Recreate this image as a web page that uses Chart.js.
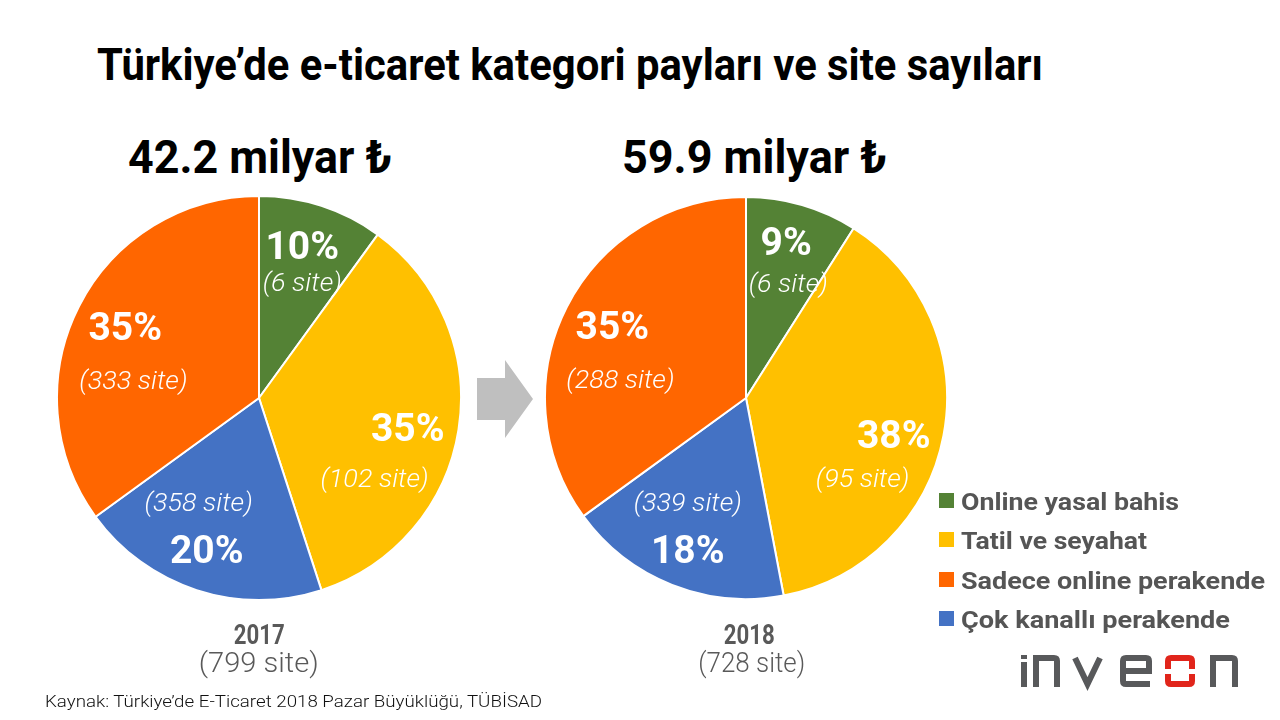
<!DOCTYPE html>
<html lang="tr">
<head>
<meta charset="utf-8">
<title>Türkiye'de e-ticaret kategori payları ve site sayıları</title>
<script src="https://cdn.jsdelivr.net/npm/chart.js@4.4.1/dist/chart.umd.min.js"></script>
<style>
    html, body { margin: 0; padding: 0; background: #fff; }
    body { width: 1280px; height: 720px; position: relative; overflow: hidden; font-family: Roboto, "Noto Sans", sans-serif; }
    .txt { position: absolute; line-height: 1; white-space: nowrap; }
    .fit { display: inline-block; }
    .pie { position: absolute; }
    #title { left: 97px; top: 43px; font-size: 44px; font-weight: 700; color: #000; }
    .amount { font-size: 46px; font-weight: 700; color: #000; top: 134px; }
    .year { font-size: 28px; font-weight: 700; color: #595959; top: 621px; width: 300px; text-align: center; }
    .count { font-size: 28px; font-weight: 300; color: #595959; top: 649px; width: 300px; text-align: center; }
    #source { left: 45px; top: 693px; font-size: 17px; font-weight: 300; color: #111; }
    #legend { position: absolute; left: 939px; top: 490px; }
    .legend-item { position: relative; height: 39.3px; }
    .legend-box { position: absolute; left: 0; top: 3px; width: 15px; height: 15px; }
    .legend-text { position: absolute; left: 22px; top: 0; font-size: 24px; font-weight: 700; color: #555; line-height: 1; white-space: nowrap; }
</style>
</head>
<body>

<div id="title" class="txt"><span class="fit" data-w="946">Türkiye’de e-ticaret kategori payları ve site sayıları</span></div>
<div id="amount2017" class="txt amount" style="left:128px"><span class="fit" data-w="264">42.2 milyar ₺</span></div>
<div id="amount2018" class="txt amount" style="left:622px"><span class="fit" data-w="265">59.9 milyar ₺</span></div>

<div class="pie" style="left:56px; top:194.5px; width:406px; height:406px"><canvas id="pie2017"></canvas></div>
<div class="pie" style="left:544px; top:195.5px; width:404px; height:404px"><canvas id="pie2018"></canvas></div>

<svg style="position:absolute; left:0; top:0" width="1280" height="720">
    <polygon points="477,378 505,378 505,360 533,399 505,438 505,420 477,420" fill="#bfbfbf"/>
    <g fill="none" stroke="#58595b" stroke-width="6">
        <rect x="1021" y="655" width="6" height="4" fill="#58595b" stroke="none"/>
        <rect x="1021" y="662" width="6" height="25" fill="#58595b" stroke="none"/>
        <path d="M1036,687 V658 H1054 Q1057,658 1057,661 V687"/>
        <path d="M1075,658 L1087.5,684 L1100,658"/>
        <path d="M1123,671 H1149 V661 Q1149,658 1146,658 H1126 Q1123,658 1123,661 V681 Q1123,684 1126,684 H1150"/>
        <path d="M1213,687 V658 H1232 Q1235,658 1235,661 V687"/>
    </g>
    <g fill="none" stroke="#e1251b" stroke-width="6">
        <path d="M1168,669 V661 Q1168,658 1171,658 H1189 Q1192,658 1192,661 V669"/>
        <path d="M1168,674 V681 Q1168,684 1171,684 H1189 Q1192,684 1192,681 V674"/>
    </g>
</svg>

<div class="txt year" style="left:109px"><span class="fit" data-w="51" id="year2017"></span></div>
<div class="txt count" style="left:109px"><span class="fit" data-w="120" id="count2017"></span></div>
<div class="txt year" style="left:599px"><span class="fit" data-w="51" id="year2018"></span></div>
<div class="txt count" style="left:602px"><span class="fit" data-w="107" id="count2018"></span></div>

<div id="legend"></div>

<div id="source" class="txt"><span class="fit" data-w="497">Kaynak: Türkiye’de E-Ticaret 2018 Pazar Büyüklüğü, TÜBİSAD</span></div>

<script>
// kategoriler ve renkler
const categories = ['Online yasal bahis', 'Tatil ve seyahat', 'Sadece online perakende', 'Çok kanallı perakende'];
const colors = ['#548235', '#ffc000', '#ff6600', '#4472c4'];
const legendWidths = [218, 186, 304, 269];

// dilim sırası: bahis, seyahat, çok kanallı, sadece online (saat yönünde, tepeden)
const sliceOrder = [0, 1, 3, 2];

const years = ['2017', '2018'];
const totalSites = [799, 728];

const shares2017 = [10, 35, 35, 20];
const sites2017 = [6, 102, 333, 358];
const shares2018 = [9, 38, 35, 18];
const sites2018 = [6, 95, 288, 339];

// etiket yerleri, yarıçap cinsinden (yüzde, site) - dilim sırasına göre
const labelSpots = {
    pie2017: [[[0.214, -0.759], [0.214, -0.570]],
              [[0.736, 0.142], [0.572, 0.400]],
              [[-0.259, 0.749], [-0.299, 0.520]],
              [[-0.662, -0.356], [-0.622, -0.087]]],
    pie2018: [[[0.20, -0.78], [0.21, -0.57]],
              [[0.735, 0.18], [0.58, 0.40]],
              [[-0.29, 0.75], [-0.29, 0.52]],
              [[-0.665, -0.36], [-0.625, -0.09]]]
};

function drawFitted(ctx, text, x, y, sx) {
    ctx.save();
    ctx.translate(x, y);
    ctx.scale(sx, 1);
    ctx.fillText(text, 0, 0);
    ctx.restore();
}

const sliceLabels = {
    id: 'sliceLabels',
    afterDatasetsDraw(chart) {
        const ctx = chart.ctx;
        const meta = chart.getDatasetMeta(0);
        const ds = chart.data.datasets[0];
        const spots = labelSpots[chart.canvas.id];
        ctx.save();
        ctx.fillStyle = '#fff';
        ctx.textAlign = 'center';
        ctx.textBaseline = 'alphabetic';
        meta.data.forEach((arc, i) => {
            const r = arc.outerRadius;
            const p = spots[i][0], s = spots[i][1];
            ctx.font = '700 39px Roboto';
            drawFitted(ctx, ds.data[i] + '%', arc.x + p[0] * r, arc.y + p[1] * r + 39 * 0.355, 1.0);
            ctx.font = 'italic 300 25px Roboto';
            drawFitted(ctx, '(' + ds.sites[i] + ' site)', arc.x + s[0] * r, arc.y + s[1] * r + 25 * 0.33, 1.08);
        });
        ctx.restore();
    }
};

function makePie(id, shares, sites) {
    const ordered = sliceOrder.map(k => shares[k]);
    const orderedSites = sliceOrder.map(k => sites[k]);
    new Chart(document.getElementById(id), {
        type: 'pie',
        data: {
            labels: sliceOrder.map(k => categories[k]),
            datasets: [{
                data: ordered,
                sites: orderedSites,
                backgroundColor: sliceOrder.map(k => colors[k]),
                borderColor: '#fff',
                borderWidth: 2
            }]
        },
        options: {
            responsive: true,
            maintainAspectRatio: false,
            animation: false,
            layout: { padding: 0 },
            plugins: {
                legend: { display: false },
                tooltip: { enabled: false }
            }
        },
        plugins: [sliceLabels]
    });
}

function buildLegend() {
    const box = document.getElementById('legend');
    categories.forEach((name, i) => {
        const item = document.createElement('div');
        item.className = 'legend-item';
        item.innerHTML = `<div class="legend-box" style="background:${colors[i]}"></div>
            <div class="legend-text"><span class="fit" data-w="${legendWidths[i]}">${name}</span></div>`;
        box.appendChild(item);
    });
}

function fitTexts() {
    document.querySelectorAll('.fit').forEach(el => {
        const target = parseFloat(el.dataset.w);
        const w = el.getBoundingClientRect().width;
        if (!w || !target) return;
        const parent = el.parentElement;
        const origin = getComputedStyle(parent).textAlign === 'center' ? 'center' : 'left';
        el.style.transformOrigin = origin + ' center';
        el.style.transform = `scaleX(${target / w})`;
    });
}

document.getElementById('year2017').textContent = years[0];
document.getElementById('year2018').textContent = years[1];
document.getElementById('count2017').textContent = `(${totalSites[0]} site)`;
document.getElementById('count2018').textContent = `(${totalSites[1]} site)`;
buildLegend();
makePie('pie2017', shares2017, sites2017);
makePie('pie2018', shares2018, sites2018);
document.fonts.ready.then(fitTexts);
</script>
</body>
</html>
